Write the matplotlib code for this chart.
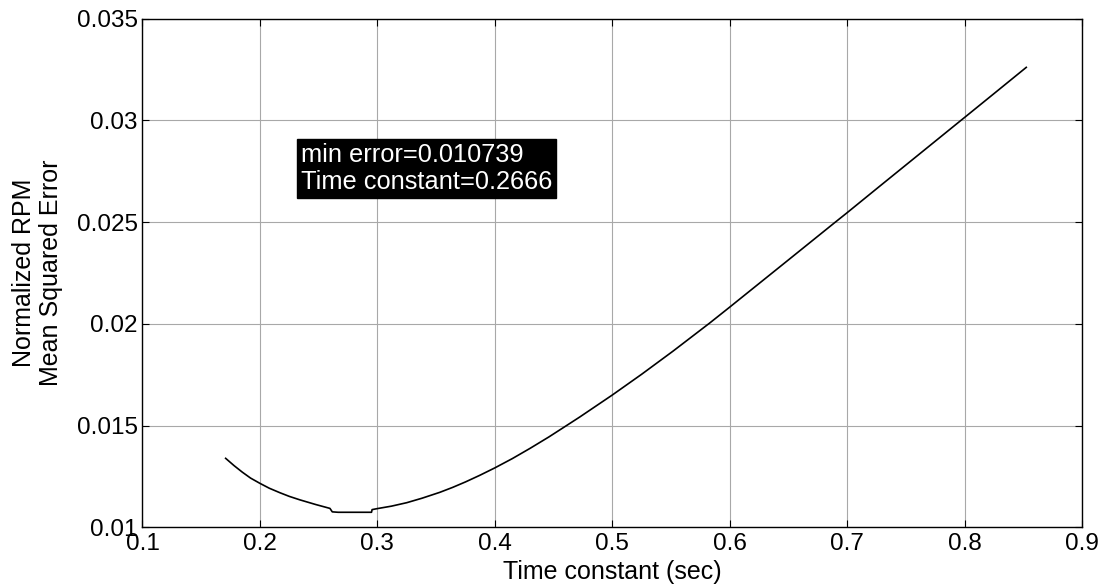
import matplotlib
matplotlib.use('Agg')
import matplotlib.pyplot as plt

# Curve (time constant vs. normalized RPM MSE)
time_const = [0.1708, 0.178, 0.185, 0.192, 0.2, 0.208, 0.217, 0.225, 0.234,
              0.2475, 0.2596, 0.2616, 0.2666, 0.2950, 0.2955, 0.3, 0.312,
              0.325, 0.338, 0.3532, 0.364, 0.375, 0.387, 0.4, 0.415, 0.43,
              0.446, 0.4624, 0.4723, 0.5, 0.525, 0.5518, 0.583, 0.6, 0.625,
              0.65, 0.6885, 0.7, 0.7277, 0.76, 0.7972, 0.8, 0.825, 0.8525]
mse = [0.01339, 0.01303, 0.01271, 0.01242, 0.01216, 0.01192, 0.01170,
       0.01152, 0.01135, 0.01112, 0.01093, 0.01076, 0.010739, 0.010739,
       0.01087, 0.01092, 0.01104, 0.01121, 0.01143, 0.01172, 0.01196,
       0.01223, 0.01255, 0.01292, 0.01338, 0.01388, 0.01444, 0.01505,
       0.01542, 0.01650, 0.01752, 0.01866, 0.02004, 0.02082, 0.02198,
       0.02314, 0.02493, 0.02546, 0.02676, 0.02827, 0.03001, 0.03014,
       0.03131, 0.03260]

x_ticks = [0.1, 0.2, 0.3, 0.4, 0.5, 0.6, 0.7, 0.8, 0.9]
x_labels = ['0.1', '0.2', '0.3', '0.4', '0.5', '0.6', '0.7', '0.8', '0.9']
y_ticks = [0.01, 0.015, 0.02, 0.025, 0.03, 0.035]
y_labels = ['0.01', '0.015', '0.02', '0.025', '0.03', '0.035']

min_err = 0.010739
best_tc = 0.2666

plt.rcParams['font.family'] = ['Liberation Sans', 'DejaVu Sans']

fig = plt.figure(figsize=(11.02, 5.88), dpi=100)
ax = fig.add_axes([0.1293, 0.1032, 0.9819 - 0.1293, 0.9685 - 0.1032])

ax.plot(time_const, mse, color='black', lw=1.2)

ax.set_xlim(0.1, 0.9)
ax.set_ylim(0.01, 0.035)
ax.set_xticks(x_ticks)
ax.set_xticklabels(x_labels)
ax.set_yticks(y_ticks)
ax.set_yticklabels(y_labels)
ax.tick_params(direction='in', length=5, width=0.8, top=True, right=True,
               labelsize=17.5, colors='black')
ax.tick_params(axis='x', pad=4)
ax.tick_params(axis='y', pad=3.5)
ax.grid(True, color='#a8a8a8', lw=0.8)
ax.set_axisbelow(True)
for s in ax.spines.values():
    s.set_linewidth(1.0)
    s.set_color('black')

ax.set_xlabel('Time constant (sec)', fontsize=18, labelpad=4)
ax.set_ylabel('Normalized RPM\nMean Squared Error', fontsize=18,
              va='center', linespacing=1.15)
ax.yaxis.set_label_coords(-0.112, 0.5)

ax.text(0.2349, 0.02765,
        'min error=%g\nTime constant=%g' % (min_err, best_tc),
        color='white', fontsize=18.3, ha='left', va='center', linespacing=1.15,
        bbox=dict(facecolor='black', edgecolor='black', pad=3))

fig.savefig('out.png', dpi=100)
